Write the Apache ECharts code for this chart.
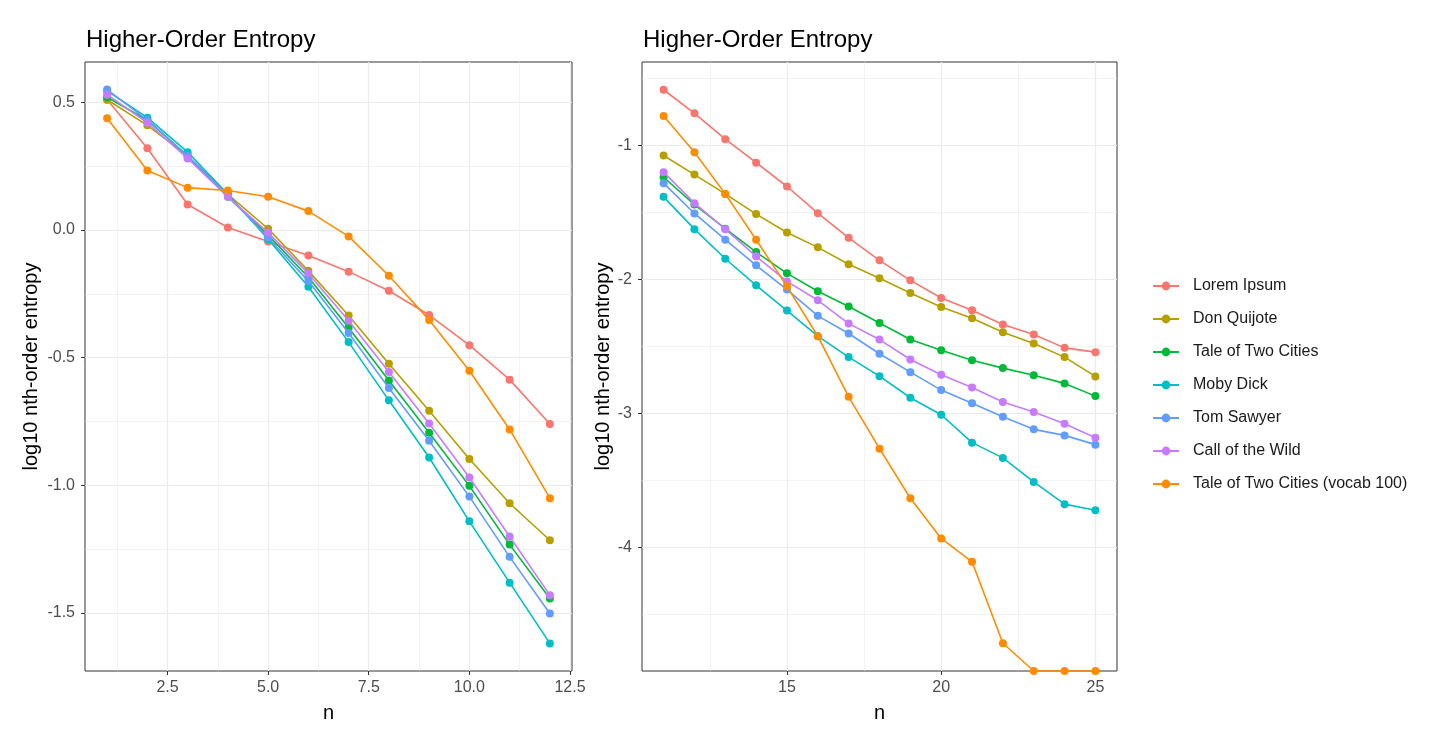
<!DOCTYPE html>
<html>
<head>
<meta charset="utf-8">
<title>Higher-Order Entropy</title>
<script src="https://cdn.jsdelivr.net/npm/echarts@6/dist/echarts.min.js"></script>
<style>
  html, body { margin: 0; padding: 0; background: #ffffff; }
  #chart { width: 1456px; height: 746px; }
</style>
</head>
<body>
<div id="chart"></div>
<script>
// n values for each panel
var nLeft = [1, 2, 3, 4, 5, 6, 7, 8, 9, 10, 11, 12];
var nRight = [11, 12, 13, 14, 15, 16, 17, 18, 19, 20, 21, 22, 23, 24, 25];

var names = ['Lorem Ipsum', 'Don Quijote', 'Tale of Two Cities', 'Moby Dick',
             'Tom Sawyer', 'Call of the Wild', 'Tale of Two Cities (vocab 100)'];
var colors = ['#F8766D', '#B79F00', '#00BA38', '#00BFC4', '#619CFF', '#C77CFF', '#FF8C00'];

// left panel, n = 1..12
var lorem1 = [0.51, 0.32, 0.10, 0.01, -0.045, -0.10, -0.163, -0.238, -0.333, -0.451, -0.586, -0.760];
var donq1  = [0.51, 0.41, 0.29, 0.14, 0.005, -0.16, -0.335, -0.524, -0.708, -0.897, -1.070, -1.215];
var tale1  = [0.52, 0.43, 0.29, 0.13, -0.02, -0.185, -0.383, -0.589, -0.794, -1.002, -1.232, -1.443];
var moby1  = [0.545, 0.44, 0.305, 0.14, -0.036, -0.222, -0.439, -0.667, -0.891, -1.141, -1.381, -1.619];
var tom1   = [0.55, 0.43, 0.29, 0.135, -0.03, -0.20, -0.403, -0.619, -0.825, -1.044, -1.280, -1.502];
var call1  = [0.53, 0.42, 0.28, 0.13, -0.01, -0.17, -0.355, -0.556, -0.758, -0.969, -1.200, -1.430];
var vocab1 = [0.438, 0.233, 0.166, 0.155, 0.130, 0.074, -0.025, -0.179, -0.352, -0.551, -0.781, -1.050];

// right panel, n = 11..25 (log10 of 0 -> -Infinity, drawn at the panel edge)
var lorem2 = [-0.583, -0.759, -0.952, -1.127, -1.305, -1.504, -1.688, -1.856, -2.005, -2.137, -2.228, -2.335, -2.41, -2.509, -2.541];
var donq2  = [-1.074, -1.216, -1.36, -1.511, -1.648, -1.759, -1.885, -1.99, -2.099, -2.204, -2.288, -2.392, -2.477, -2.578, -2.722];
var tale2  = [-1.236, -1.44, -1.62, -1.794, -1.953, -2.087, -2.2, -2.323, -2.447, -2.526, -2.601, -2.66, -2.713, -2.774, -2.869];
var moby2  = [-1.382, -1.623, -1.844, -2.042, -2.231, -2.422, -2.578, -2.72, -2.881, -3.008, -3.216, -3.33, -3.509, -3.675, -3.72];
var tom2   = [-1.28, -1.506, -1.702, -1.893, -2.074, -2.27, -2.402, -2.553, -2.69, -2.824, -2.923, -3.023, -3.117, -3.162, -3.231];
var call2  = [-1.198, -1.429, -1.623, -1.826, -2.013, -2.154, -2.328, -2.447, -2.596, -2.71, -2.804, -2.913, -2.988, -3.075, -3.179];
var vocab2 = [-0.779, -1.05, -1.36, -1.702, -2.05, -2.422, -2.874, -3.261, -3.631, -3.931, -4.105, -4.713, -Infinity, -Infinity, -Infinity];

// tick labels
var xTicksLeft = [2.5, 5, 7.5, 10, 12.5];
var xMinorLeft = [1.25, 3.75, 6.25, 8.75, 11.25];
var yTicksLeft = [-1.5, -1, -0.5, 0, 0.5];
var yMinorLeft = [-1.25, -0.75, -0.25, 0.25];
var xTicksRight = [15, 20, 25];
var xMinorRight = [12.5, 17.5, 22.5];
var yTicksRight = [-4, -3, -2, -1];
var yMinorRight = [-4.5, -3.5, -2.5, -1.5, -0.5];

var leftSets = [lorem1, donq1, tale1, moby1, tom1, call1, vocab1];
var rightSets = [lorem2, donq2, tale2, moby2, tom2, call2, vocab2];

// panel ranges (ggplot 5% expansion)
var xRangeLeft = [0.45, 12.55], yRangeLeft = [-1.727, 0.658];
var xRangeRight = [10.3, 25.7], yRangeRight = [-4.92, -0.376];

var font = 'Liberation Sans, Arial, Helvetica, sans-serif';

function mainAxis(gi, range, ticks, dim, name, gap, fmt) {
    return {
        type: 'value',
        gridIndex: gi,
        position: dim === 'x' ? 'bottom' : 'left',
        min: range[0],
        max: range[1],
        name: name,
        nameLocation: 'middle',
        nameGap: gap,
        nameRotate: dim === 'x' ? 0 : 90,
        nameTextStyle: { color: '#000', fontSize: 20, fontFamily: font },
        axisLine: { show: false, onZero: false },
        axisTick: { show: true, length: 4, customValues: ticks, lineStyle: { color: '#333', width: 1 } },
        axisLabel: {
            customValues: ticks,
            color: '#4D4D4D', fontSize: 16, fontFamily: font,
            margin: dim === 'x' ? 9 : 10,
            formatter: fmt
        },
        splitLine: { show: true, lineStyle: { color: '#EBEBEB', width: 1.2 } }
    };
}

function minorAxis(gi, range, ticks) {
    return {
        type: 'value',
        gridIndex: gi,
        min: range[0],
        max: range[1],
        axisLine: { show: false, onZero: false },
        axisTick: { show: false, customValues: ticks },
        axisLabel: { show: false },
        splitLine: { show: true, lineStyle: { color: '#EBEBEB', width: 0.6 } }
    };
}

var fmt1 = function (v) { return v.toFixed(1); };
var fmt0 = function (v) { return String(Math.round(v)); };

var series = [];
function addSeries(xs, sets, xi, yi, yMin) {
    sets.forEach(function (ys, k) {
        series.push({
            name: names[k],
            type: 'line',
            xAxisIndex: xi,
            yAxisIndex: yi,
            data: xs.map(function (n, i) {
                var v = ys[i] === -Infinity ? yMin : ys[i];
                return [n, v];
            }),
            symbol: 'circle',
            symbolSize: 8,
            clip: false,
            color: colors[k],
            lineStyle: { width: 1.6, color: colors[k] },
            itemStyle: { color: colors[k] },
            emphasis: { disabled: true },
            z: 2 + k
        });
    });
}
addSeries(nLeft, leftSets, 0, 0, yRangeLeft[0]);
addSeries(nRight, rightSets, 1, 1, yRangeRight[0]);

var option = {
    animation: false,
    backgroundColor: '#ffffff',
    title: [
        { text: 'Higher-Order Entropy', left: 81, top: 23,
          textStyle: { fontSize: 24, fontWeight: 'normal', color: '#000', fontFamily: font } },
        { text: 'Higher-Order Entropy', left: 638, top: 23,
          textStyle: { fontSize: 24, fontWeight: 'normal', color: '#000', fontFamily: font } }
    ],
    legend: {
        orient: 'vertical',
        left: 1147,
        top: 273,
        itemWidth: 26,
        itemHeight: 11,
        itemGap: 17,
        data: names,
        textStyle: { fontSize: 16, color: '#1A1A1A', fontFamily: font, padding: [0, 0, 0, 9] }
    },
    grid: [
        { left: 85, top: 62, width: 487, height: 609, show: true, borderColor: '#333', borderWidth: 1, backgroundColor: '#fff' },
        { left: 642, top: 62, width: 475, height: 609, show: true, borderColor: '#333', borderWidth: 1, backgroundColor: '#fff' }
    ],
    xAxis: [
        mainAxis(0, xRangeLeft, xTicksLeft, 'x', 'n', 32, fmt1),
        mainAxis(1, xRangeRight, xTicksRight, 'x', 'n', 32, fmt0),
        minorAxis(0, xRangeLeft, xMinorLeft),
        minorAxis(1, xRangeRight, xMinorRight)
    ],
    yAxis: [
        mainAxis(0, yRangeLeft, yTicksLeft, 'y', 'log10 nth-order entropy', 44, fmt1),
        mainAxis(1, yRangeRight, yTicksRight, 'y', 'log10 nth-order entropy', 29, fmt0),
        minorAxis(0, yRangeLeft, yMinorLeft),
        minorAxis(1, yRangeRight, yMinorRight)
    ],
    series: series
};

var chart = echarts.init(document.getElementById('chart'));
chart.setOption(option);
</script>
</body>
</html>
